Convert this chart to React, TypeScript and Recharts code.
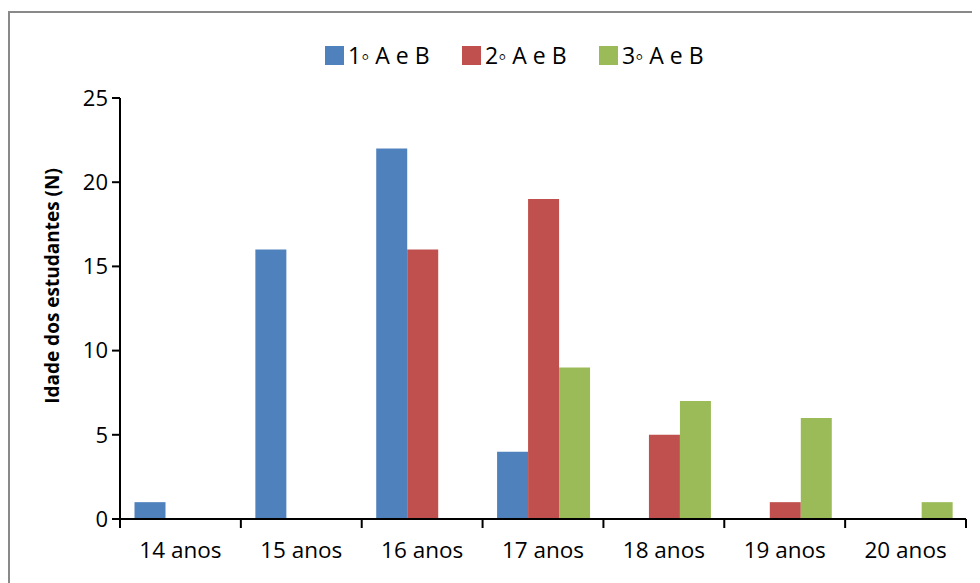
import { BarChart, Bar, XAxis, YAxis } from 'recharts'

const AGES = ['14 anos', '15 anos', '16 anos', '17 anos', '18 anos', '19 anos', '20 anos']
const PRIMEIRO = [1, 16, 22, 4, 0, 0, 0]
const SEGUNDO = [0, 0, 16, 19, 5, 1, 0]
const TERCEIRO = [0, 0, 0, 9, 7, 6, 1]
const Y_TICKS = [0, 5, 10, 15, 20, 25]

const SERIES = [
  { key: 'primeiro', name: '1◦ A e B', color: '#4F81BD' },
  { key: 'segundo', name: '2◦ A e B', color: '#C0504D' },
  { key: 'terceiro', name: '3◦ A e B', color: '#9BBB59' },
]

const FONT = '"Open Sans", "Liberation Sans", sans-serif'

const data = AGES.map((age, i) => ({
  age,
  primeiro: PRIMEIRO[i],
  segundo: SEGUNDO[i],
  terceiro: TERCEIRO[i],
}))

// category ticks sit on band boundaries, labels stay centred
function AgeTick(props: any) {
  const { x, y, payload, index } = props
  const half = payload.offset ?? 0
  const last = index === AGES.length - 1
  return (
    <g>
      <line x1={x - half} x2={x - half} y1={y - 8} y2={y + 1} stroke="#000" strokeWidth={2} />
      {last && <line x1={x + half} x2={x + half} y1={y - 8} y2={y + 1} stroke="#000" strokeWidth={2} />}
      <text x={x} y={y + 31} textAnchor="middle" fill="#000" fontSize={22.5} fontFamily={FONT}>
        {payload.value}
      </text>
    </g>
  )
}

function YLabel() {
  return (
    <text
      x={44}
      y={278}
      transform="rotate(-90 44 278)"
      textAnchor="middle"
      dominantBaseline="central"
      fontFamily={FONT}
      fontSize={19}
      fontWeight={700}
      fill="#000"
    >
      Idade dos estudantes (N)
    </text>
  )
}

export default function App() {
  return (
    <div style={{ position: 'relative', width: 972, height: 575, overflow: 'hidden', background: '#fff' }}>
      <div
        style={{
          position: 'absolute',
          left: 0,
          top: 3,
          width: 1000,
          height: 620,
          border: '2px solid #898989',
        }}
      />
      <div
        style={{
          position: 'absolute',
          left: 317,
          top: 31,
          display: 'flex',
          alignItems: 'center',
          fontFamily: FONT,
          fontSize: 23,
          color: '#000',
          whiteSpace: 'nowrap',
        }}
      >
        {SERIES.map((s) => (
          <div key={s.key} style={{ display: 'flex', alignItems: 'center', width: 137 }}>
            <span style={{ width: 19, height: 19, background: s.color, marginRight: 4 }} />
            <span>{s.name}</span>
          </div>
        ))}
      </div>
      <div style={{ position: 'absolute', left: 0, top: 0 }}>
        <BarChart
          width={972}
          height={575}
          data={data}
          margin={{ top: 90, right: 14, left: 32, bottom: 14 }}
          barCategoryGap="12%"
          barGap={0}
        >
          <XAxis
            dataKey="age"
            height={50}
            axisLine={{ stroke: '#000', strokeWidth: 2 }}
            tickLine={false}
            tick={<AgeTick />}
            interval={0}
          />
          <YAxis
            width={80}
            domain={[0, 25]}
            ticks={Y_TICKS}
            interval={0}
            axisLine={{ stroke: '#000', strokeWidth: 2 }}
            tickLine={{ stroke: '#000', strokeWidth: 2 }}
            tickSize={8}
            tickMargin={4}
            tick={{ fill: '#000', fontSize: 22, fontFamily: FONT }}
            label={<YLabel />}
          />
          {SERIES.map((s) => (
            <Bar key={s.key} dataKey={s.key} name={s.name} fill={s.color} isAnimationActive={false} />
          ))}
        </BarChart>
      </div>
    </div>
  )
}
